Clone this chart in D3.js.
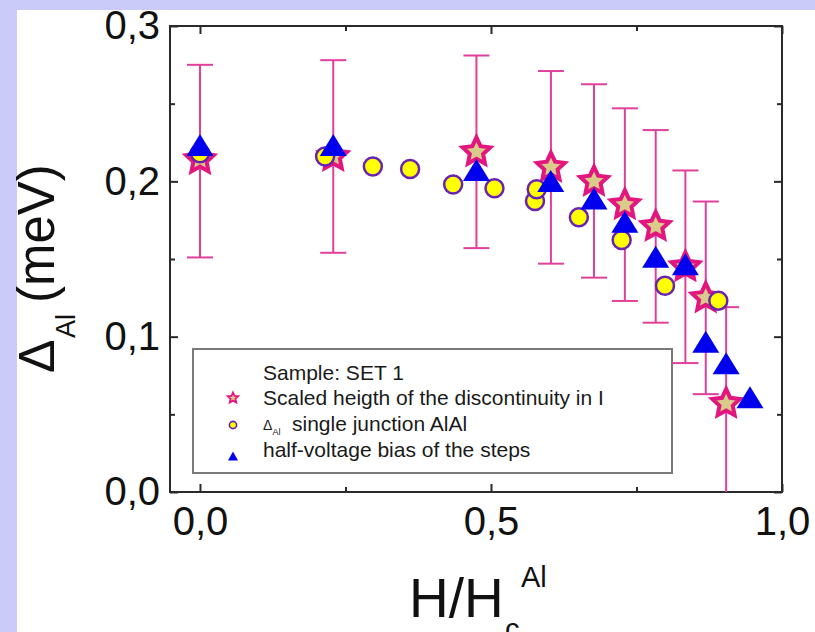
<!DOCTYPE html>
<html><head><meta charset="utf-8">
<script src="https://cdn.jsdelivr.net/npm/d3@7/dist/d3.min.js"></script>
<style>body{margin:0;background:#fff}svg{display:block}</style>
</head><body>
<script>
// ---------- data ----------
const xTickValues = [0, 0.5, 1.0];
const xTickLabels = ["0,0", "0,5", "1,0"];
const xMinorTicks = [0.25, 0.75];
const yTickValues = [0, 0.1, 0.2, 0.3];
const yTickLabels = ["0,0", "0,1", "0,2", "0,3"];
const yMinorTicks = [0.05, 0.15, 0.25];

// Scaled height of the discontinuity in I (stars, with error bars)
const starX  = [0, 0.229, 0.475, 0.603, 0.677, 0.730, 0.783, 0.834, 0.869, 0.904];
const starY  = [0.214, 0.216, 0.219, 0.209, 0.200, 0.185, 0.171, 0.145, 0.125, 0.057];
const starHi = [0.275, 0.278, 0.281, 0.271, 0.2625, 0.247, 0.233, 0.207, 0.187, 0.119];
const starLo = [0.151, 0.154, 0.157, 0.147, 0.138, 0.123, 0.109, 0.083, 0.063, -0.006];

// Delta_Al single junction AlAl (circles)
const circX = [0, 0.215, 0.297, 0.361, 0.435, 0.506, 0.5756, 0.5785, 0.651, 0.7245, 0.799, 0.8906];
const circY = [0.218, 0.216, 0.2095, 0.208, 0.198, 0.1955, 0.1873, 0.1949, 0.1768, 0.1622, 0.1328, 0.1232];

// half-voltage bias of the steps (triangles)
const triX = [0, 0.229, 0.475, 0.6027, 0.677, 0.730, 0.783, 0.834, 0.869, 0.904, 0.945];
const triY = [0.2234, 0.2234, 0.2073, 0.2002, 0.189, 0.174, 0.1515, 0.1466, 0.0968, 0.0829, 0.061];

const legendTitle = "Sample: SET 1";
const legendStar = "Scaled heigth of the discontinuity in I";
const legendCirc = "single junction AlAl";
const legendTri = "half-voltage bias of the steps";

// ---------- setup ----------
const W = 815, H = 632;
const FONT = "'Liberation Sans', Arial, Helvetica, sans-serif";
const svg = d3.select("body").append("svg").attr("width", W).attr("height", H)
  .style("font-family", FONT);

svg.append("rect").attr("width", W).attr("height", H).attr("fill", "#cbcbfa");
svg.append("rect").attr("x", 17).attr("y", 10).attr("width", W - 17).attr("height", H - 10).attr("fill", "#ffffff");

const L = 170, R = 782, T = 26, B = 492;
const x = d3.scaleLinear().domain([-0.0515, 1.0]).range([L, R]);
const y = d3.scaleLinear().domain([0, 0.3]).range([B, T]);

const AX = "#2a2a2a";
const fmtX = d => xTickLabels[xTickValues.indexOf(d)];
const fmtY = d => yTickLabels[yTickValues.indexOf(d)];

function styleAxis(g, fs) {
  g.select(".domain").remove();
  g.selectAll(".tick line").attr("stroke", AX).attr("stroke-width", 2);
  g.selectAll(".tick text").attr("fill", "#111").style("font-size", fs + "px").style("font-family", FONT);
}

// bottom axis
svg.append("g").attr("transform", `translate(0,${B})`)
  .call(d3.axisBottom(x).tickValues(xTickValues).tickFormat(fmtX).tickSizeInner(-8).tickSizeOuter(0).tickPadding(15))
  .call(g => styleAxis(g, 40));
svg.append("g").attr("transform", `translate(0,${B})`)
  .call(d3.axisBottom(x).tickValues(xMinorTicks).tickFormat("").tickSizeInner(-5).tickSizeOuter(0))
  .call(g => styleAxis(g, 40));
// top axis
svg.append("g").attr("transform", `translate(0,${T})`)
  .call(d3.axisTop(x).tickValues(xTickValues).tickFormat("").tickSizeInner(-8).tickSizeOuter(0))
  .call(g => styleAxis(g, 40));
svg.append("g").attr("transform", `translate(0,${T})`)
  .call(d3.axisTop(x).tickValues(xMinorTicks).tickFormat("").tickSizeInner(-5).tickSizeOuter(0))
  .call(g => styleAxis(g, 40));
// left axis
svg.append("g").attr("transform", `translate(${L},0)`)
  .call(d3.axisLeft(y).tickValues(yTickValues).tickFormat(fmtY).tickSizeInner(-8).tickSizeOuter(0).tickPadding(10))
  .call(g => styleAxis(g, 40));
svg.append("g").attr("transform", `translate(${L},0)`)
  .call(d3.axisLeft(y).tickValues(yMinorTicks).tickFormat("").tickSizeInner(-5).tickSizeOuter(0))
  .call(g => styleAxis(g, 40));
// right axis
svg.append("g").attr("transform", `translate(${R},0)`)
  .call(d3.axisRight(y).tickValues(yTickValues).tickFormat("").tickSizeInner(-8).tickSizeOuter(0))
  .call(g => styleAxis(g, 40));
svg.append("g").attr("transform", `translate(${R},0)`)
  .call(d3.axisRight(y).tickValues(yMinorTicks).tickFormat("").tickSizeInner(-5).tickSizeOuter(0))
  .call(g => styleAxis(g, 40));

// frame
svg.append("rect").attr("x", L).attr("y", T).attr("width", R - L).attr("height", B - T)
  .attr("fill", "none").attr("stroke", AX).attr("stroke-width", 2);

// clip
svg.append("clipPath").attr("id", "plotclip").append("rect")
  .attr("x", L).attr("y", T).attr("width", R - L).attr("height", B - T);

// legend box (drawn under data)
const lg = svg.append("g");
lg.append("rect").attr("x", 193).attr("y", 349).attr("width", 479).attr("height", 124)
  .attr("fill", "#fff").attr("stroke", "#7a7a7a").attr("stroke-width", 2);

const plot = svg.append("g").attr("clip-path", "url(#plotclip)");

// shapes
function starPath(Ro, Ri) {
  const p = d3.path();
  for (let i = 0; i < 10; i++) {
    const a = -Math.PI / 2 + i * Math.PI / 5;
    const r = i % 2 ? Ri : Ro;
    const px = r * Math.cos(a), py = r * Math.sin(a);
    if (i === 0) p.moveTo(px, py); else p.lineTo(px, py);
  }
  p.closePath();
  return p.toString();
}
function triPath(w, h) {
  const p = d3.path();
  p.moveTo(0, -h / 2); p.lineTo(w / 2, h / 2); p.lineTo(-w / 2, h / 2); p.closePath();
  return p.toString();
}

const stars = starX.map((v, i) => ({ x: v, y: starY[i], hi: starHi[i], lo: starLo[i] }));
const circs = circX.map((v, i) => ({ x: v, y: circY[i] }));
const tris = triX.map((v, i) => ({ x: v, y: triY[i] }));

const ERR = "#e0409c";
const eb = plot.append("g").selectAll("g").data(stars).join("g");
eb.append("line").attr("x1", d => x(d.x)).attr("x2", d => x(d.x))
  .attr("y1", d => y(d.hi)).attr("y2", d => y(d.lo)).attr("stroke", ERR).attr("stroke-width", 2);
eb.append("line").attr("x1", d => x(d.x) - 13).attr("x2", d => x(d.x) + 13)
  .attr("y1", d => y(d.hi)).attr("y2", d => y(d.hi)).attr("stroke", ERR).attr("stroke-width", 2);
eb.append("line").attr("x1", d => x(d.x) - 13).attr("x2", d => x(d.x) + 13)
  .attr("y1", d => y(d.lo)).attr("y2", d => y(d.lo)).attr("stroke", ERR).attr("stroke-width", 2);

const STAR_STROKE = "#e2167e", STAR_FILL = "#d9cc8a";
plot.append("g").selectAll("path").data(stars).join("path")
  .attr("d", starPath(14.5, 7))
  .attr("transform", d => `translate(${x(d.x)},${y(d.y)})`)
  .attr("fill", STAR_FILL).attr("stroke", STAR_STROKE).attr("stroke-width", 4).attr("stroke-linejoin", "miter");

plot.append("g").selectAll("circle").data(circs).join("circle")
  .attr("cx", d => x(d.x)).attr("cy", d => y(d.y)).attr("r", 9)
  .attr("fill", "#ffff00").attr("stroke", "#6a22b0").attr("stroke-width", 2.5);

plot.append("g").selectAll("path").data(tris).join("path")
  .attr("d", triPath(27, 22))
  .attr("transform", d => `translate(${x(d.x)},${y(d.y)})`)
  .attr("fill", "#0000ee");

// legend content
const LFS = 21;
lg.append("text").attr("x", 263).attr("y", 380).style("font-size", LFS + "px").attr("fill", "#1a1a1a").text(legendTitle);
lg.append("path").attr("d", starPath(5.5, 2.6)).attr("transform", "translate(233,398)")
  .attr("fill", STAR_FILL).attr("stroke", STAR_STROKE).attr("stroke-width", 1.8);
lg.append("text").attr("x", 263).attr("y", 405).style("font-size", LFS + "px").attr("fill", "#1a1a1a").text(legendStar);
lg.append("circle").attr("cx", 233).attr("cy", 425).attr("r", 3.6)
  .attr("fill", "#ffff00").attr("stroke", "#6a22b0").attr("stroke-width", 1.6);
lg.append("text").attr("x", 263).attr("y", 430).style("font-size", "14px").attr("fill", "#1a1a1a").text("Δ");
lg.append("text").attr("x", 272.5).attr("y", 435).style("font-size", "9px").attr("fill", "#1a1a1a").text("Al");
lg.append("text").attr("x", 292).attr("y", 431).style("font-size", LFS + "px").attr("fill", "#1a1a1a").text(legendCirc);
lg.append("path").attr("d", triPath(10, 9)).attr("transform", "translate(233,456)").attr("fill", "#0000ee");
lg.append("text").attr("x", 263).attr("y", 457).style("font-size", LFS + "px").attr("fill", "#1a1a1a").text(legendTri);

// x title
svg.append("text").attr("x", 409).attr("y", 617).style("font-size", "55px").attr("fill", "#111").text("H/H");
svg.append("text").attr("x", 505).attr("y", 639).style("font-size", "29px").attr("fill", "#111").text("c");
svg.append("text").attr("x", 521).attr("y", 587).style("font-size", "29px").attr("fill", "#111").text("Al");

// y title
const yt = svg.append("g").attr("transform", "translate(54,373) rotate(-90)");
yt.append("text").attr("x", 0).attr("y", 0).style("font-size", "50px").attr("fill", "#111").text("Δ");
yt.append("text").attr("x", 35).attr("y", 21).style("font-size", "27px").attr("fill", "#111").text("Al");
yt.append("text").attr("x", 70).attr("y", 0).style("font-size", "51px").attr("fill", "#111").text("(meV)");
</script>
</body></html>
